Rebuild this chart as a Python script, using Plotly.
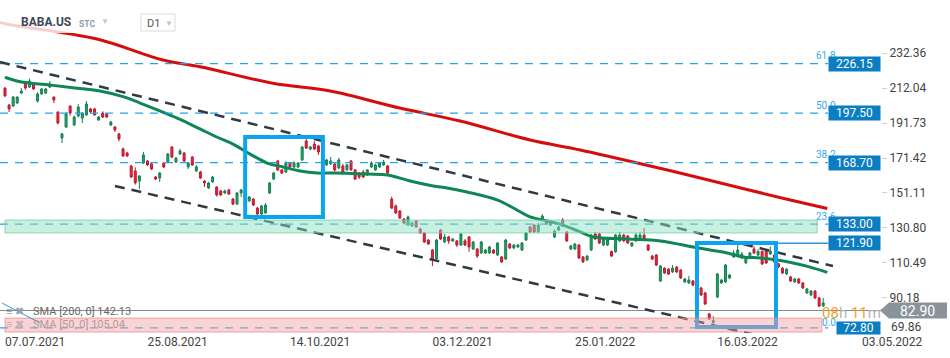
import plotly.graph_objects as go

# ---------------- data ----------------
opens = [212.0,202.2,201.6,203.3,209.1,215.0,212.6,214.4,204.5,208.6,209.1,212.6,206.8,198.1,183.0,189.4,201.6,190.6,195.8,194.6,
         196.4,199.9,199.9,193.5,197.5,197.0,190.6,189.4,185.4,176.7,174.3,166.8,163.9,158.0,168.5,169.7,168.0,160.4,159.8,168.5,
         169.1,177.8,169.1,173.8,174.3,166.2,172.0,163.9,163.3,158.0,154.0,157.5,154.6,152.3,151.1,152.9,147.6,144.7,151.1,151.1,
         146.5,147.6,142.4,138.9,139.5,151.1,159.2,169.7,164.5,163.3,168.5,166.2,166.2,170.3,181.3,176.6,179.5,178.4,175.0,167.4,
         168.0,167.9,165.6,166.8,164.5,169.7,164.5,162.7,163.3,161.6,166.2,164.5,166.2,167.4,166.8,147.6,143.6,140.7,136.0,132.5,
         132.0,134.9,130.2,127.9,123.8,118.0,112.8,129.6,122.7,125.6,123.3,123.3,120.9,123.3,125.6,118.6,118.6,116.3,116.3,116.3,
         118.0,115.1,114.0,112.8,121.5,119.2,119.8,118.0,123.8,131.4,132.5,128.5,136.0,134.9,132.5,125.6,129.6,135.4,128.5,118.6,
         118.6,120.9,114.0,112.2,118.0,127.3,127.3,120.9,120.9,117.2,117.0,123.3,126.7,126.2,120.4,123.3,124.4,126.7,120.9,114.5,
         115.1,100.0,107.5,106.9,105.3,108.1,106.4,99.5,98.9,100.1,98.9,96.0,93.1,80.9,76.0,90.8,98.9,99.5,101.8,114.0,
         115.1,113.4,110.5,114.0,118.6,115.1,117.2,118.0,115.7,115.1,110.0,107.5,104.1,102.4,99.5,101.2,98.9,93.1,91.9,94.2,
         90.2,85.5]
highs = [212.5,202.8,207.5,207.2,212.0,216.0,217.5,215.0,209.5,212.0,212.0,216.1,207.2,198.5,186.0,198.0,202.0,196.0,202.8,198.0,
         204.5,200.5,200.5,195.8,198.5,197.5,193.0,190.0,186.0,177.5,175.0,167.5,166.0,161.5,175.0,170.3,168.5,161.0,163.3,169.0,
         174.3,178.4,172.0,176.7,175.0,169.1,172.6,167.4,164.0,158.6,157.5,161.0,155.0,152.9,153.0,153.5,148.2,151.7,153.5,151.7,
         149.4,148.2,143.0,144.1,145.3,157.5,163.3,170.3,165.0,169.7,169.1,169.7,169.1,178.4,182.5,178.4,181.3,179.0,175.6,171.0,
         172.0,168.5,171.5,168.0,168.0,170.3,165.0,163.3,164.5,165.0,169.7,168.0,169.1,170.3,167.4,149.0,144.5,141.2,136.6,138.0,
         134.5,135.4,131.0,128.5,124.4,118.6,124.4,130.2,127.3,126.2,125.0,123.8,127.9,124.4,126.2,123.3,119.2,123.3,118.6,120.4,
         118.6,122.7,114.5,124.4,122.1,121.5,121.5,122.7,128.5,132.0,133.0,133.7,138.9,135.4,134.5,130.0,132.0,136.6,129.0,121.0,
         122.1,121.5,114.5,115.1,127.3,128.5,127.9,125.0,124.4,117.7,127.3,128.5,127.3,126.7,122.7,127.9,128.5,130.8,121.5,115.1,
         115.7,109.3,108.1,107.5,109.3,108.7,107.0,101.8,103.0,100.6,102.0,96.6,93.7,81.5,79.7,104.7,101.2,110.0,104.1,118.0,
         120.9,116.9,114.5,116.9,120.4,118.6,117.7,118.6,120.0,115.7,110.5,108.1,107.5,103.0,101.8,101.8,99.5,96.0,94.8,94.8,
         90.8,90.2]
lows = [207.0,198.1,201.0,203.0,208.6,211.0,212.0,211.0,203.5,208.0,208.5,212.0,203.3,191.0,180.1,188.8,196.0,190.0,195.0,191.7,
        196.0,197.5,196.0,193.0,194.6,194.6,190.0,186.5,181.0,172.0,172.0,159.8,156.0,153.4,168.0,166.8,164.5,158.6,157.5,165.6,
        168.5,171.4,168.5,173.2,169.1,165.0,166.8,163.3,159.2,154.6,153.4,157.0,149.0,149.4,150.5,150.0,144.0,144.1,148.8,147.6,
        146.0,143.6,138.3,138.3,139.0,150.5,158.6,163.9,162.0,162.7,165.6,165.6,165.6,169.7,176.7,176.0,176.0,173.2,170.0,166.8,
        167.4,163.3,165.0,162.0,164.0,164.0,158.6,159.2,159.8,161.0,165.6,164.0,165.6,166.8,162.0,141.8,139.0,136.0,133.0,132.0,
        131.4,131.0,127.3,122.0,121.0,108.7,112.2,123.8,122.0,121.5,122.7,119.8,120.4,120.4,117.0,118.0,113.4,115.7,115.7,115.7,
        115.7,114.5,110.5,112.2,118.6,118.6,119.2,117.4,123.3,127.9,127.9,127.9,135.4,132.5,132.0,125.0,129.0,131.4,122.7,118.0,
        118.0,112.8,110.5,111.6,117.4,123.8,121.5,120.4,120.4,114.0,116.3,122.7,122.7,121.5,119.8,122.7,123.8,123.8,117.4,112.2,
        108.7,99.5,104.1,103.5,104.7,104.7,101.2,98.9,98.3,97.0,98.3,91.3,86.0,77.4,75.0,90.0,98.3,99.0,101.2,113.4,
        114.5,112.8,110.0,113.4,115.7,114.5,109.3,110.0,115.1,110.5,107.5,104.1,103.5,99.5,98.9,98.3,95.4,92.5,91.3,89.6,
        84.9,85.0]
closes = [207.4,199.9,206.8,206.8,210.3,212.0,216.1,211.5,208.6,211.5,211.5,214.4,205.1,191.7,185.4,197.0,197.5,195.2,201.0,197.5,
          202.8,198.1,196.4,195.2,195.2,195.2,192.3,187.7,182.5,172.6,172.6,160.4,157.0,161.0,173.2,167.4,165.0,159.2,162.7,166.2,
          173.8,172.0,171.4,175.5,169.7,168.5,167.4,166.2,159.8,156.9,156.9,160.4,150.0,150.0,152.3,150.5,144.7,151.1,152.9,148.2,
          148.8,144.1,138.9,143.6,144.1,156.9,162.7,164.5,162.7,168.5,166.2,168.5,168.5,177.8,177.2,177.8,176.6,174.9,170.5,170.3,
          169.7,164.5,170.3,162.7,167.4,164.5,159.2,160.4,160.4,164.5,168.5,167.4,168.5,169.1,162.7,142.4,139.5,136.6,133.7,137.2,
          133.7,131.4,127.9,122.7,121.5,112.2,123.8,124.4,125.6,123.3,124.4,120.9,127.3,120.9,119.8,122.7,114.5,122.7,118.0,119.8,
          116.3,122.1,111.1,123.8,119.2,120.9,120.9,122.1,127.9,128.5,128.5,132.5,137.7,133.1,134.0,129.0,131.4,132.0,123.3,120.4,
          121.5,113.4,111.1,114.5,126.7,124.4,122.1,124.4,123.8,114.5,126.7,126.7,123.3,122.1,122.1,126.7,126.7,124.4,118.0,112.8,
          109.3,108.7,104.7,104.1,107.5,105.3,101.8,101.2,100.6,97.7,100.6,91.9,86.7,78.0,77.0,104.1,100.6,109.3,103.5,116.3,
          118.0,115.7,114.0,116.3,116.3,117.2,109.9,110.5,117.4,111.1,108.2,104.7,106.9,100.0,101.2,98.9,96.0,95.4,94.2,90.2,
          85.5,87.3]
x_idx = list(range(len(closes)))

date_tick_idx = [0, 35, 70, 105, 140, 175]
date_tick_text = ["07.07.2021", "25.08.2021", "14.10.2021", "03.12.2021", "25.01.2022", "16.03.2022"]
current_date = "03.05.2022"

price_ticks = [90.18, 110.49, 130.80, 151.11, 171.42, 191.73, 212.04, 232.36]
price_tick_text = ["90.18", "110.49", "130.80", "151.11", "171.42", "191.73", "212.04", "232.36"]
bottom_tick_text = "69.86"

sma50_idx = [0, 3.7, 11, 17.7, 23.3, 29, 33.2, 42.3, 47.9, 52, 56, 60.2, 64.4, 68.3, 72.5, 76.7, 80.6, 89, 94,
             99.5, 105.2, 108.6, 113.5, 121, 125.8, 129, 133.2, 137.1, 141.3, 144.5, 152.8, 161, 169, 173.2,
             177.4, 181.3, 185.5, 189.7, 193.6, 197.8, 202]
sma50_val = [218.3, 215.7, 213.8, 211.9, 210.3, 207.0, 203.3, 194.6, 188.3, 183.6, 179.5, 173.7, 168.5, 166.2,
             163.9, 162.7, 162.7, 162.1, 161.6, 158.1, 155.2, 154.0, 151.7, 147.0, 141.2, 137.2, 134.9, 132.5,
             128.5, 125.6, 124.4, 123.3, 119.8, 118.0, 116.3, 114.0, 113.4, 112.2, 110.5, 108.1, 105.0]
sma200_idx = [-1.3, 0, 22.6, 38.8, 47.9, 65.8, 79.9, 97, 111.8, 129, 141.3, 158.5, 170.8, 192.9, 202]
sma200_val = [250.3, 249.3, 240.5, 228.3, 224.4, 214.8, 210.3, 200.4, 192.9, 181.9, 176.1, 166.8, 159.8, 147.0, 142.1]
sma50_label = "SMA [50, 0] 105.04"
sma200_label = "SMA [200, 0] 142.13"

fib_levels = [226.15, 197.50, 168.70, 133.00, 72.80]
fib_pct = ["61.8", "50.0", "38.2", "23.6", "0.0"]
resistance_level = 121.90
last_price = 82.90
green_zone = [127.9, 135.4]
pink_zone = [70.4, 78.5]
channel_upper_x = [-1.23, 203.4]
channel_upper_y = [227.1, 108.7]
channel_lower_x = [27.0, 185.5]
channel_lower_y = [155.2, 68.1]
box1 = [59.0, 78.1, 137.2, 183.6]
box2 = [170.0, 189.4, 73.3, 122.1]

# ---------------- layout constants ----------------
W, H = 950, 358
ML, MR, MT, MB = 0, 69, 0, 25
PW, PH = W - ML - MR, H - MT - MB
x_range = [-1.23, 215.2]
y_range = [69.85, 263.12]

def px_x(px):
    return px / PW

def px_y(py):
    return 1 - py / PH

def price_to_paper(p):
    return (p - y_range[0]) / (y_range[1] - y_range[0])

fig = go.Figure()
fig.add_trace(go.Candlestick(
    x=x_idx, open=opens, high=highs, low=lows, close=closes,
    increasing=dict(line=dict(color="#17804f", width=1), fillcolor="#22a267"),
    decreasing=dict(line=dict(color="#c1182e", width=1), fillcolor="#e02a40"),
    whiskerwidth=0, showlegend=False, hoverinfo="skip"))
fig.add_trace(go.Scatter(x=sma200_idx, y=sma200_val, mode="lines",
                         line=dict(color="#d50d0d", width=3, shape="spline"), showlegend=False, hoverinfo="skip"))
fig.add_trace(go.Scatter(x=sma50_idx, y=sma50_val, mode="lines",
                         line=dict(color="#0f8655", width=3, shape="spline"), showlegend=False, hoverinfo="skip"))

shapes = []
for lv in fib_levels:
    shapes.append(dict(type="line", xref="x", yref="y", x0=x_range[0], x1=202.2, y0=lv, y1=lv,
                       line=dict(color="#1ea6ee", width=1.3, dash="8px,7px")))
shapes.append(dict(type="line", xref="paper", yref="y", x0=0, x1=1, y0=last_price, y1=last_price,
                   line=dict(color="#8a8a8a", width=1)))
shapes.append(dict(type="line", xref="x", yref="y", x0=box2[1], x1=202.3, y0=resistance_level, y1=resistance_level,
                   line=dict(color="#3596d6", width=1.5)))
shapes.append(dict(type="line", xref="x", yref="y", x0=channel_upper_x[0], x1=channel_upper_x[1],
                   y0=channel_upper_y[0], y1=channel_upper_y[1], line=dict(color="#2f3a45", width=2.5, dash="10px,7px")))
shapes.append(dict(type="line", xref="x", yref="y", x0=channel_lower_x[0], x1=channel_lower_x[1],
                   y0=channel_lower_y[0], y1=channel_lower_y[1], line=dict(color="#2f3a45", width=2.5, dash="10px,7px")))
for b in (box1, box2):
    shapes.append(dict(type="rect", xref="x", yref="y", x0=b[0], x1=b[1], y0=b[2], y1=b[3],
                       line=dict(color="#0ba5ef", width=4)))
shapes.append(dict(type="rect", xref="x", yref="y", x0=0, x1=199.5, y0=green_zone[0], y1=green_zone[1],
                   fillcolor="rgba(140,222,190,0.48)", line=dict(color="rgba(100,205,160,0.7)", width=1)))
shapes.append(dict(type="rect", xref="x", yref="y", x0=0, x1=200.7, y0=pink_zone[0], y1=pink_zone[1],
                   fillcolor="rgba(245,160,160,0.45)", line=dict(color="rgba(240,130,130,0.7)", width=1)))
shapes.append(dict(type="rect", xref="paper", yref="paper", x0=0, x1=px_x(190), y0=px_y(33), y1=1,
                   fillcolor="rgba(255,255,255,0.8)", line=dict(width=0)))
shapes.append(dict(type="rect", xref="paper", yref="paper", x0=px_x(141), x1=px_x(175), y0=px_y(31), y1=px_y(14),
                   fillcolor="rgba(255,255,255,1)", line=dict(color="#dcdcdc", width=1)))
shapes.append(dict(type="line", xref="paper", yref="paper", x0=px_x(2), y0=px_y(303), x1=px_x(40), y1=px_y(323),
                   line=dict(color="#2a9fd8", width=1)))
yc = price_to_paper(last_price)
dy = 8 / PH
xa, xb, xr = px_x(880), px_x(889), px_x(947)
shapes.append(dict(type="path", xref="paper", yref="paper",
                   path=f"M {xa},{yc} L {xb},{yc+dy} L {xr},{yc+dy} L {xr},{yc-dy} L {xb},{yc-dy} Z",
                   fillcolor="#89949a", line=dict(width=0)))

ann = []
FONT = "Roboto, Arial, sans-serif"

def add_text(x, y, text, size, color, xanchor="left", **kw):
    d = dict(x=x, xref="paper", y=y, yref="paper", text=text, showarrow=False, xanchor=xanchor,
             yanchor="middle", font=dict(family=FONT, size=size, color=color))
    d.update(kw)
    ann.append(d)

# fib pct labels
for lv, t in zip(fib_levels, fib_pct):
    shift = 8 if lv > 100 else 5
    add_text(px_x(838), price_to_paper(lv), t, 10, "#33aaf0", xanchor="right", yshift=shift)
# price boxes
for lv in fib_levels[:4] + [resistance_level]:
    add_text(1, price_to_paper(lv), f"{lv:.2f}", 12, "white", xanchor="right",
             width=49, height=12, borderpad=1, bgcolor="#0b7dc2")
add_text(1, price_to_paper(fib_levels[4]), f"{fib_levels[4]:.2f}", 12, "white", xanchor="right",
         width=41, height=10, borderpad=1, bgcolor="#0b7dc2")
# current price text
add_text(px_x(918), yc, f"{last_price:.2f}", 14, "white", xanchor="center")
# countdown
add_text(px_x(851), yc, "<span style='color:#f5a21f'>08</span><span style='color:#b8b8b8'>h</span> "
         "<span style='color:#f5a21f'>11</span><span style='color:#b8b8b8'>m</span>", 15, "#f5a21f",
         xanchor="center", yshift=-2)
# bottom tick label & date
add_text(px_x(889), px_y(327), bottom_tick_text, 12, "#444")
add_text(px_x(892), px_y(342), current_date, 12, "#444", xanchor="center")
# legend texts
add_text(px_x(31), px_y(311.5), sma200_label, 11, "#6a6a6a")
add_text(px_x(31), px_y(324.5), sma50_label, 11, "#b49a9a")
add_text(px_x(4), px_y(311.5), "≡ ✖", 11, "#9aa0a6")
add_text(px_x(4), px_y(324.5), "≡ ✖", 11, "#c8b0b0")
# header
add_text(px_x(19), px_y(22), "<b>BABA.US</b>", 12, "#3c4853")
add_text(px_x(77), px_y(23.5), "<b>STC</b>", 8.5, "#8d9ba7")
add_text(px_x(99), px_y(21), "▼", 8, "#c4c4c4")
add_text(px_x(145), px_y(23), "D1", 11, "#555")
add_text(px_x(163), px_y(23), "▼", 8, "#c4c4c4")

fig.update_layout(
    width=W, height=H, margin=dict(l=ML, r=MR, t=MT, b=MB),
    paper_bgcolor="white", plot_bgcolor="white", showlegend=False,
    shapes=shapes, annotations=ann,
    xaxis=dict(range=x_range, showgrid=False, zeroline=False, showline=False,
               tickvals=date_tick_idx, ticktext=date_tick_text, ticks="",
               ticklabelposition="outside right",
               tickfont=dict(family=FONT, size=12, color="#444"),
               rangeslider=dict(visible=False)),
    yaxis=dict(range=y_range, side="right", showgrid=False, zeroline=False, showline=False,
               tickvals=price_ticks, ticktext=price_tick_text, ticks="outside", ticklen=5,
               tickcolor="#d0d0d0", tickfont=dict(family=FONT, size=12, color="#444")),
)
fig.write_html("out.html")
